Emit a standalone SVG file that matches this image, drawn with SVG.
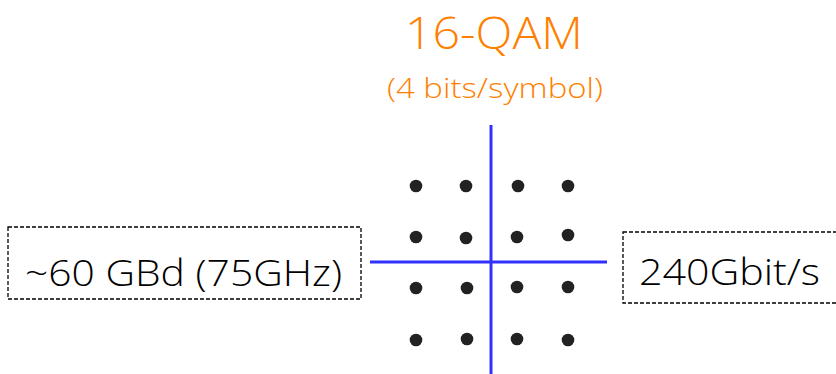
<svg xmlns="http://www.w3.org/2000/svg" width="836" height="374" viewBox="0 0 836 374">
<style>
.t{font-family:"Open Sans","Liberation Sans",sans-serif;font-weight:300}
.o{fill:#ff8000}
.k{fill:#000}
.box{fill:#fff;stroke:#000;stroke-width:1.3;stroke-dasharray:4 2}
.ax{stroke:#3030ff;stroke-width:3}
.d{fill:#222}
</style>
<rect width="836" height="374" fill="#fff"/>
<g id="title">
<text class="t o" x="494" y="49" font-size="45" text-anchor="middle" textLength="178" lengthAdjust="spacingAndGlyphs">16-QAM</text>
<text class="t o" x="495" y="98" font-size="28" text-anchor="middle" textLength="216" lengthAdjust="spacingAndGlyphs">(4 bits/symbol)</text>
</g>
<g id="constellation">
<line class="ax" x1="491" y1="125" x2="491" y2="374"/>
<line class="ax" x1="370" y1="262" x2="607" y2="262"/>
<g class="d">
<circle cx="416" cy="186" r="6.3"/><circle cx="466" cy="186" r="6.3"/><circle cx="518" cy="186" r="6.3"/><circle cx="568" cy="186" r="6.3"/>
<circle cx="416" cy="237" r="6.3"/><circle cx="466" cy="238" r="6.3"/><circle cx="517" cy="237" r="6.3"/><circle cx="568" cy="235" r="6.3"/>
<circle cx="416" cy="288" r="6.3"/><circle cx="467" cy="288" r="6.3"/><circle cx="517" cy="287" r="6.3"/><circle cx="568" cy="287" r="6.3"/>
<circle cx="416" cy="340" r="6.3"/><circle cx="467" cy="339" r="6.3"/><circle cx="517" cy="339" r="6.3"/><circle cx="568" cy="340" r="6.3"/>
</g>
</g>
<g id="baud">
<rect class="box" x="8" y="227" width="353" height="72"/>
<text class="t k" x="25" y="286" font-size="36" textLength="317" lengthAdjust="spacingAndGlyphs">~60 GBd (75GHz)</text>
</g>
<g id="rate">
<rect class="box" x="623" y="232" width="230" height="71"/>
<text class="t k" x="639" y="285" font-size="36" textLength="181" lengthAdjust="spacingAndGlyphs">240Gbit/s</text>
</g>
</svg>
